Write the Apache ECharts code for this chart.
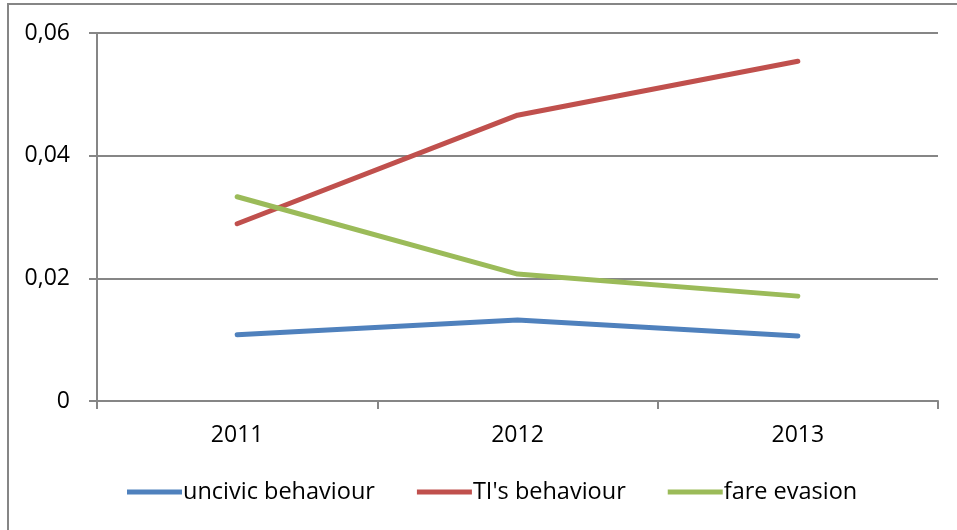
<!DOCTYPE html>
<html>
<head>
<meta charset="utf-8">
<script src="https://cdn.jsdelivr.net/npm/echarts@6/dist/echarts.min.js"></script>
<style>
  html, body { margin: 0; padding: 0; background: #fff; }
  #chart { width: 957px; height: 530px; }
</style>
</head>
<body>
<div id="chart"></div>
<script>
// data
var years = ["2011", "2012", "2013"];
var uncivic = [0.0108, 0.0132, 0.0106];
var tiBehaviour = [0.0289, 0.0466, 0.0554];
var fareEvasion = [0.0333, 0.0207, 0.0171];

var gray = "#868686";
var font = "Open Sans";

var chart = echarts.init(document.getElementById("chart"));

function lineSeries(name, data, color) {
  return {
    name: name,
    type: "line",
    data: data,
    symbol: "none",
    itemStyle: { color: color },
    lineStyle: { color: color, width: 5, cap: "round", join: "round" },
    emphasis: { disabled: true },
  };
}

var option = {
  animation: false,
  backgroundColor: "#fff",
  grid: { left: 97, right: 19, top: 33, bottom: 129 },
  legend: {
    left: 122,
    top: 475,
    icon: "rect",
    itemWidth: 55,
    itemHeight: 5,
    itemGap: 42,
    textStyle: { fontFamily: font, fontSize: 23.5, color: "#000", padding: [0, 0, 0, -4] },
    data: ["uncivic behaviour", "TI's behaviour", "fare evasion"],
  },
  xAxis: {
    type: "category",
    data: years,
    boundaryGap: true,
    axisLine: { lineStyle: { color: gray, width: 2 } },
    axisTick: { show: true, length: 8, lineStyle: { color: gray, width: 2 } },
    axisLabel: { color: "#000", fontFamily: font, fontSize: 23, margin: 23 },
  },
  yAxis: {
    type: "value",
    min: 0,
    max: 0.06,
    interval: 0.02,
    axisLine: { show: true, lineStyle: { color: gray, width: 2 } },
    axisTick: { show: true, length: 8, lineStyle: { color: gray, width: 2 } },
    splitLine: { lineStyle: { color: gray, width: 2 } },
    axisLabel: {
      color: "#000",
      fontFamily: font,
      fontSize: 23,
      margin: 27,
      formatter: function (v) {
        return v === 0 ? "0" : v.toFixed(2).replace(".", ",");
      },
    },
  },
  series: [
    lineSeries("uncivic behaviour", uncivic, "#4F81BD"),
    lineSeries("TI's behaviour", tiBehaviour, "#C0504D"),
    lineSeries("fare evasion", fareEvasion, "#9BBB59"),
  ],
  graphic: [
    {
      type: "polyline",
      shape: { points: [[8, 540], [8, 4], [970, 4]] },
      style: { stroke: gray, lineWidth: 2, fill: null },
    },
  ],
};
chart.setOption(option);
</script>
</body>
</html>
